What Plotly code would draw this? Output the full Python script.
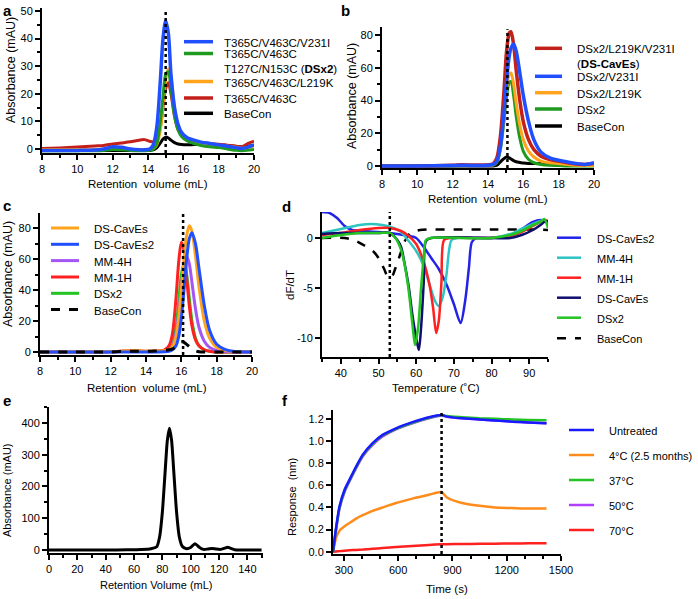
import plotly.graph_objects as go

W, H = 698, 599
FONT = "Liberation Sans, Arial, sans-serif"

# ---------------- panel a: SEC traces ----------------
a_vol = [8, 9, 10, 11, 11.5, 12, 12.5, 13, 13.5, 13.8, 14.1, 14.3, 14.5, 14.7, 14.85, 15.0,
         15.15, 15.3, 15.5, 15.7, 15.9, 16.2, 16.6, 17, 17.5, 18, 18.5, 19, 19.3, 19.6, 20]
a_v231i = [-0.5, -0.5, -0.5, -0.4, 0, 0.8, 0.6, 0, -0.3, -0.3, 0, 1.5, 8, 25, 40, 46.5,
           42, 27, 15, 9, 6, 4.2, 3.2, 2.5, 2, 1.5, 1, 0.5, 0.2, 0.6, 1.5]
a_dsx2 = [-0.6, -0.6, -0.6, -0.6, -0.5, -0.2, -0.3, -0.5, -0.6, -0.6, -0.5, 0, 2, 10, 19, 27,
          28, 22, 12, 7, 4.5, 3, 2, 1.3, 0.8, 0.5, 0, -0.5, -0.6, -0.5, -0.2]
a_l219k = [-0.3, -0.3, -0.3, -0.3, -0.2, 0.2, 0.1, -0.2, -0.3, -0.3, -0.2, 0, 1.5, 7, 16, 25,
           29, 26, 15, 8, 5, 3.2, 2.3, 1.8, 1.5, 1.2, 1, 0.6, 0.3, 0.5, 1]
a_t365c = [0.2, 0.4, 0.7, 1.1, 1.3, 1.8, 2.2, 2.6, 3.2, 3.4, 2.8, 2.6, 3.5, 8, 15, 22,
           24, 20, 12, 7, 5, 3.5, 2.8, 2.3, 2.0, 1.7, 1.4, 1.0, 0.8, 1.8, 2.8]
a_basecon = [-0.5, -0.5, -0.5, -0.5, -0.5, -0.5, -0.5, -0.5, -0.5, -0.5, -0.5, -0.3, 0.5, 2.2, 3.6, 4.3,
             4.0, 3.2, 2.3, 1.8, 1.6, 1.5, 1.6, 1.7, 1.6, 1.4, 1.2, 0.9, 0.8, 1.0, 1.4]
a_names = ["T365C/V463C/V231I", "T365C/V463C<br>T127C/N153C (<b>DSx2</b>)",
           "T365C/V463C/L219K", "T365C/V463C", "BaseCon"]
a_colors = ["#1f4fff", "#1f9a1f", "#ffa41c", "#c4201a", "#000000"]
a_mark = 15.0

# ---------------- panel b ----------------
b_vol = [8, 10, 12, 12.5, 13, 14, 14.3, 14.5, 14.7, 14.9, 15.05, 15.2, 15.3, 15.45, 15.6,
         15.8, 16.0, 16.3, 16.6, 17, 17.5, 18, 18.5, 19, 19.5, 20]
b_caves = [0, 0, 0.5, 0.8, 0.6, 0.8, 1.5, 5, 18, 45, 70, 81, 82, 74, 58,
           40, 27, 16, 10, 6, 4, 3, 2, 1.3, 1, 1.5]
b_v231i = [0, 0, 0.3, 0.5, 0.4, 0.5, 1, 3, 12, 32, 52, 67, 72, 74.5, 70,
           57, 43, 27, 16, 8.5, 5, 3.5, 2.5, 1.5, 1, 2]
b_l219k = [0, 0, 0.3, 0.5, 0.4, 0.5, 0.8, 3, 12, 30, 47, 56, 56.8, 50, 38,
           25, 16, 9, 5.5, 3, 2, 1.5, 1, 0.5, 0.3, 0.5]
b_dsx2 = [0, 0, 0.2, 0.3, 0.3, 0.4, 0.5, 2, 10, 27, 42, 51, 51.5, 43, 30,
          17, 9, 4, 2, 1, 0.5, 0.3, 0, 0, 0, 0]
b_basecon = [0, 0, 0, 0, 0, 0, 0, 0.5, 2.5, 4.5, 5.5, 5, 4.3, 3.3, 2.6,
             2.2, 1.8, 1.5, 1.5, 1.5, 1.3, 1.0, 0.8, 0.5, 0.3, 0.3]
b_names = ["DSx2/L219K/V231I<br>(<b>DS-CavEs</b>)", "DSx2/V231I", "DSx2/L219K", "DSx2", "BaseCon"]
b_colors = ["#c4201a", "#1f4fff", "#ffa41c", "#1f9a1f", "#000000"]
b_mark = 15.1

# ---------------- panel c ----------------
c_vol = [8, 10, 12, 13, 13.5, 14, 14.5, 15, 15.3, 15.5, 15.7, 15.85, 16.0, 16.15, 16.3,
         16.45, 16.6, 16.8, 17.0, 17.3, 17.6, 18, 18.5, 19, 20]
c_caves = [0, 0.2, 0.3, 0.8, 0.8, 0.5, 0.5, 0.8, 1.5, 3.5, 10, 22, 40, 60, 75,
           81.5, 78, 62, 42, 20, 9, 3, 1, 0.3, 0]
c_caves2 = [0, 0, 0, 0, 0, 0, 0, 0.2, 0.5, 1.5, 4, 10, 22, 40, 60,
            73, 77, 70, 54, 30, 14, 5, 1.5, 0.3, 0]
c_mm4h = [0, 0, 0.2, 0.5, 0.5, 0.3, 0.3, 0.5, 1, 4, 12, 25, 42, 56, 62,
          57, 45, 28, 16, 7, 3, 1, 0.3, 0, 0]
c_mm1h = [0, 0, 0.2, 0.8, 0.8, 0.5, 0.6, 1, 4, 12, 35, 58, 70.8, 66, 48,
          30, 17, 8, 4, 1.5, 0.5, 0, 0, 0, 0]
c_dsx2 = [0, 0, 0.2, 0.5, 0.5, 0.3, 0.4, 0.8, 1.5, 5, 16, 32, 50, 57, 50,
          35, 20, 9, 4, 1.5, 0.5, 0, 0, 0, 0]
c_basecon = [0, 0, 0, 0.5, 0.5, 0.5, 0.7, 1, 1.5, 2, 3.5, 5, 6.5, 6.3, 5,
             3.5, 2, 0.8, 0.2, 0, 0, 0, 0, 0, 0]
c_names = ["DS-CavEs", "DS-CavEs2", "MM-4H", "MM-1H", "DSx2", "BaseCon"]
c_colors = ["#ffa41c", "#1f4fff", "#a455f5", "#ff2020", "#22c322", "#000000"]
c_mark = 16.1

# ---------------- panel d: DSF dF/dT ----------------
d_caves2_t = [35, 37, 39, 41, 43, 46, 50, 55, 58, 60, 62, 64, 66, 68, 70, 71.8, 73, 74,
              74.8, 76, 80, 85, 88, 91, 93, 94, 95]
d_caves2 = [2.6, 2.5, 2.0, 1.2, 0.8, 0.7, 0.6, 0.4, 0.2, 0.0, -0.9, -2.0, -3.1, -4.6, -6.6, -8.5, -6.3, -3.0,
            -0.4, 0.0, 0.0, 0.3, 0.9, 1.6, 1.8, 1.7, 1.5]
d_mm4h_t = [35, 40, 45, 48, 51, 54, 56, 58, 60, 62, 63.5, 65, 66, 67, 68, 69.4, 71, 80, 85, 88, 91, 93, 94, 95]
d_mm4h = [0.5, 0.9, 1.3, 1.4, 1.3, 1.0, 0.6, -0.3, -1.3, -2.8, -4.6, -6.3, -6.8, -6.0, -3.8, -0.2, 0.0, 0.0,
          0.4, 0.9, 1.4, 1.7, 1.8, 1.6]
d_mm1h_t = [35, 40, 45, 50, 53, 56, 58, 60, 62, 63.5, 64.5, 65.3, 66, 66.7, 67.4, 69, 80, 85, 88, 91, 93, 94, 95]
d_mm1h = [0.3, 0.5, 0.8, 1.0, 1.0, 0.7, 0.2, -0.6, -2.4, -4.6, -7.0, -9.5, -8.3, -4.5, -0.2, 0.0, 0.0,
          0.2, 0.6, 1.2, 1.6, 1.8, 1.7]
d_caves_t = [35, 40, 45, 50, 53, 55, 56, 57, 58, 59, 60, 60.7, 61.3, 62, 62.6, 64, 80, 85, 88, 91, 93, 94, 95]
d_caves = [0.4, 0.5, 0.5, 0.5, 0.5, -0.2, -0.9, -2.7, -4.8, -7.7, -10.0, -11.2, -9.0, -4.5, -0.3, 0.0, 0.0,
           0.0, 0.3, 0.8, 1.3, 1.6, 1.7]
d_dsx2_t = [35, 40, 45, 50, 53, 54.5, 56, 57, 58, 59, 59.7, 60.5, 61.3, 62, 62.6, 64, 80, 85, 88, 91, 93, 94, 95]
d_dsx2 = [0.0, 0.3, 0.5, 0.5, 0.5, 0.0, -1.2, -2.8, -5.2, -8.6, -10.7, -9.0, -5.0, -2.0, -0.2, 0.0, 0.0,
          0.3, 0.7, 1.3, 1.6, 1.9, 1.0]
d_basecon_t = [35, 41, 44, 46, 48.5, 50, 51.5, 52.5, 53.5, 54.5, 55.7, 57, 58.5, 61, 70, 80, 90, 95]
d_basecon = [0.0, 0.0, -0.3, -0.7, -1.3, -2.0, -3.1, -3.9, -3.9, -3.0, -1.7, -0.3, 0.5, 0.8, 0.85, 0.85, 0.85, 0.8]
d_names = ["DS-CavEs2", "MM-4H", "MM-1H", "DS-CavEs", "DSx2", "BaseCon"]
d_colors = ["#2323e8", "#2ec4c4", "#ff2020", "#0f0f6e", "#22c322", "#000000"]
d_mark = 53
d_yticks = [-10, -5, 0]
d_yticklabels = ["-10", "-5", "0"]

# ---------------- panel e: preparative SEC ----------------
e_vol = [0, 20, 40, 55, 65, 72, 76, 78, 80, 82, 83.5, 85, 86.5, 88, 90, 92, 94, 97, 100, 103,
         106, 109, 112, 115, 118, 121, 124, 126, 128, 131, 135, 140, 145, 150]
e_abs = [0, 0, 0, 0.5, 1.5, 4, 10, 40, 120, 250, 345, 383, 345, 250, 120, 40, 12, 4, 8, 20,
         9, 2, 3, 5, 3, 2, 6, 9, 6, 1, 0, 0, 0, 0]

# ---------------- panel f: BLI binding ----------------
f_time = [240, 258, 276, 304, 331, 368, 404, 459, 514, 588, 679, 770, 840, 870, 953, 1050,
          1136, 1230, 1319, 1420]
f_untreated = [0.0, 0.23, 0.41, 0.56, 0.65, 0.77, 0.875, 0.98, 1.055, 1.115, 1.17, 1.215, 1.235, 1.22,
               1.205, 1.195, 1.185, 1.175, 1.167, 1.16]
f_4c = [0.0, 0.13, 0.19, 0.23, 0.26, 0.30, 0.33, 0.37, 0.40, 0.44, 0.48, 0.515, 0.54, 0.49,
        0.44, 0.415, 0.40, 0.395, 0.39, 0.39]
f_37c = [0.0, 0.22, 0.40, 0.55, 0.645, 0.765, 0.87, 0.975, 1.05, 1.11, 1.165, 1.21, 1.235, 1.225,
         1.215, 1.205, 1.2, 1.195, 1.19, 1.188]
f_50c = [0.0, 0.21, 0.39, 0.54, 0.635, 0.755, 0.86, 0.965, 1.04, 1.105, 1.16, 1.205, 1.23, 1.22,
         1.205, 1.195, 1.185, 1.175, 1.167, 1.16]
f_70c = [0.0, 0.003, 0.006, 0.01, 0.013, 0.017, 0.02, 0.027, 0.034, 0.043, 0.053, 0.062, 0.068, 0.069,
         0.07, 0.072, 0.073, 0.075, 0.076, 0.078]
f_names = ["Untreated", "4°C (2.5 months)", "37°C", "50°C", "70°C"]
f_colors = ["#1a1aff", "#ff8c1a", "#22c322", "#b040ff", "#ff2020"]
f_mark = 840


def fx(px):
    return px / W


def fy(py):
    return 1 - py / H


def axis(dom, rng, anchor, dtick, minor=None, **kw):
    d = dict(
        domain=dom, range=rng, anchor=anchor, dtick=dtick,
        showline=True, linecolor="black", linewidth=2,
        ticks="outside", ticklen=5, tickwidth=2, tickcolor="black",
        showgrid=False, zeroline=False, fixedrange=True,
        tickfont=dict(family=FONT, size=11, color="black"),
    )
    if minor:
        d["minor"] = dict(ticks="outside", ticklen=3, tickwidth=1.5, tickcolor="black",
                          dtick=minor, showgrid=False)
    d.update(kw)
    return d


# panel boxes in pixels: (x0, x1, ytop, ybottom)
boxes = {
    "a": (42, 254, 8, 153),
    "b": (382, 594, 27, 168),
    "c": (40, 252, 213, 355),
    "d": (322, 548, 212, 357),
    "e": (49, 263, 407, 553),
    "f": (333, 561, 410, 554),
}
ids = {"a": "", "b": "2", "c": "3", "d": "4", "e": "5", "f": "6"}


def xdom(p):
    return [fx(boxes[p][0]), fx(boxes[p][1])]


def ydom(p):
    return [fy(boxes[p][3]), fy(boxes[p][2])]


fig = go.Figure()


def add(p, x, y, color, width=3, dash="solid", smooth=0.8):
    fig.add_trace(go.Scatter(
        x=x, y=y, mode="lines", showlegend=False, hoverinfo="skip",
        line=dict(color=color, width=width, dash=dash, shape="spline", smoothing=smooth),
        xaxis="x" + ids[p], yaxis="y" + ids[p],
    ))


# a (drawing order: back to front)
add("a", a_vol, a_basecon, a_colors[4])
add("a", a_vol, a_t365c, a_colors[3])
add("a", a_vol, a_l219k, a_colors[2])
add("a", a_vol, a_dsx2, a_colors[1])
add("a", a_vol, a_v231i, a_colors[0], width=3.5)
# b
add("b", b_vol, b_basecon, b_colors[4])
add("b", b_vol, b_dsx2, b_colors[3])
add("b", b_vol, b_l219k, b_colors[2])
add("b", b_vol, b_caves, b_colors[0], width=3.5)
add("b", b_vol, b_v231i, b_colors[1], width=3.5)
# c
add("c", c_vol, c_dsx2, c_colors[4])
add("c", c_vol, c_mm1h, c_colors[3])
add("c", c_vol, c_mm4h, c_colors[2])
add("c", c_vol, c_caves, c_colors[0])
add("c", c_vol, c_caves2, c_colors[1])
add("c", c_vol, c_basecon, c_colors[5], dash="dash")
# d
add("d", d_basecon_t, d_basecon, d_colors[5], width=2.5, dash="dash")
add("d", d_caves2_t, d_caves2, d_colors[0], width=2.5)
add("d", d_mm4h_t, d_mm4h, d_colors[1], width=2.5)
add("d", d_mm1h_t, d_mm1h, d_colors[2], width=2.5)
add("d", d_caves_t, d_caves, d_colors[3], width=2.5)
add("d", d_dsx2_t, d_dsx2, d_colors[4], width=2.5)
# e
add("e", e_vol, e_abs, "black", width=3, smooth=0.6)
# f
add("f", f_time, f_70c, f_colors[4], width=2.5, smooth=0.6)
add("f", f_time, f_4c, f_colors[1], width=2.5, smooth=0.6)
add("f", f_time, f_50c, f_colors[3], width=2.5, smooth=0.6)
add("f", f_time, f_37c, f_colors[2], width=2.5, smooth=0.6)
add("f", f_time, f_untreated, f_colors[0], width=2.5, smooth=0.6)

layout_axes = {
    "xaxis": axis(xdom("a"), [8, 20], "y", 2, 1),
    "yaxis": axis(ydom("a"), [-1.45, 51.1], "x", 10, 5),
    "xaxis2": axis(xdom("b"), [8, 20], "y2", 2, 1),
    "yaxis2": axis(ydom("b"), [-1.2, 84.9], "x2", 20, 10),
    "xaxis3": axis(xdom("c"), [8, 20], "y3", 2, 1),
    "yaxis3": axis(ydom("c"), [-1.9, 89.7], "x3", 20, 10),
    "xaxis4": axis(xdom("d"), [35, 95], "y4", 10, 5, tick0=40),
    "yaxis4": axis(ydom("d"), [-11.9, 2.6], "x4", None, None,
                   tickmode="array", tickvals=d_yticks, ticktext=d_yticklabels),
    "xaxis5": axis(xdom("e"), [0, 151], "y5", 20, 10),
    "yaxis5": axis(ydom("e"), [-9.4, 450], "x5", 100, 50),
    "xaxis6": axis(xdom("f"), [240, 1500], "y6", 300, 100, tick0=0),
    "yaxis6": axis(ydom("f"), [-0.02, 1.28], "x6", 0.2, None, tickformat=".1f"),
}
fig.update_layout(**layout_axes)

shapes = []
# dotted reference lines
for p, xv, y0, y1 in [("a", a_mark, -1.45, 50.6), ("b", b_mark, -1.2, 83.5),
                      ("c", c_mark, -1.9, 89.7), ("d", d_mark, -11.9, 2.6),
                      ("f", f_mark, -0.02, 1.28)]:
    shapes.append(dict(type="line", xref="x" + ids[p], yref="y" + ids[p], x0=xv, x1=xv, y0=y0, y1=y1,
                       line=dict(color="black", width=2.5, dash="dot"), layer="above"))

annotations = []


def text(x, y, s, size=11, xanchor="center", yanchor="middle", angle=0, align="center"):
    annotations.append(dict(x=fx(x), y=fy(y), xref="paper", yref="paper", text=s, showarrow=False,
                            xanchor=xanchor, yanchor=yanchor, textangle=angle, align=align,
                            borderpad=0,
                            font=dict(family=FONT, size=size, color="black")))


def legend(names, colors, ys, lx0, lx1, tx, size, width=3, dashes=None, line_gap=7.0):
    for i, (n, c, yy) in enumerate(zip(names, colors, ys)):
        dash = dashes[i] if dashes else "solid"
        shapes.append(dict(type="line", xref="paper", yref="paper", x0=fx(lx0), x1=fx(lx1),
                           y0=fy(yy), y1=fy(yy), line=dict(color=c, width=width, dash=dash)))
        nlines = n.count("<br>") + 1
        text(tx, yy + 1 + (nlines - 1) * line_gap, n, size=size, xanchor="left", align="left")


legend(a_names, a_colors, [41.7, 53.5, 81.5, 98, 113.3], 184, 213, 223, 11.5, width=3.5)
legend(b_names, b_colors, [48.3, 76.3, 92.7, 109, 126], 535, 562, 576, 11.5, width=3.5)
legend(c_names, c_colors, [228, 244.3, 260.6, 277, 293.3, 309.6], 51, 79, 93, 11.5,
       dashes=["solid"] * 5 + ["dash"])
legend(d_names, d_colors, [237.7, 257.7, 277.7, 297.7, 317.7, 338.3], 557, 581, 596, 11,
       width=2.5, dashes=["solid"] * 5 + ["dash"])
legend(f_names, f_colors, [430, 455, 480, 505, 530], 569, 594, 608, 11, width=2.5)

# axis titles
nb = "\u00a0"
text(148, 184, "Retention" + nb + " volume (mL)", 11.5)
text(11, 70, "Absorbance (mAU)", 12.5, angle=-90)
text(488, 199, "Retention" + nb + " volume (mL)", 11.5)
text(352, 96, "Absorbance (mAU)", 12.5, angle=-90)
text(147, 388, "Retention" + nb + " volume (mL)", 11.5)
text(8, 274, "Absorbance (mAU)", 12.5, angle=-90)
text(290, 285, "dF/dT", 11.5, angle=-90)
text(436, 388, "Temperature (˚C)", 11.5)
text(156, 585, "Retention Volume (mL)", 11)
text(7, 490, "Absorbance (mAU)", 11, angle=-90)
text(292, 497, "Response" + nb + " (nm)", 11, angle=-90)
text(447, 589, "Time (s)", 11.5)

# panel letters
for letter, x, y in [("a", 2, 1), ("b", 340, 1), ("c", 2, 196), ("d", 281, 197), ("e", 2, 391), ("f", 281, 391)]:
    text(x, y, "<b>" + letter + "</b>", 15, xanchor="left", yanchor="top")

fig.update_layout(
    width=W, height=H,
    margin=dict(l=0, r=0, t=0, b=0, autoexpand=False),
    paper_bgcolor="white", plot_bgcolor="white",
    showlegend=False,
    shapes=shapes, annotations=annotations,
    font=dict(family=FONT, size=11, color="black"),
)

# drop the browser's default 8px body margin so the figure sits at the page origin
fig.write_html("out.html", config={"displayModeBar": False},
               post_script="document.body.style.margin='0';")
